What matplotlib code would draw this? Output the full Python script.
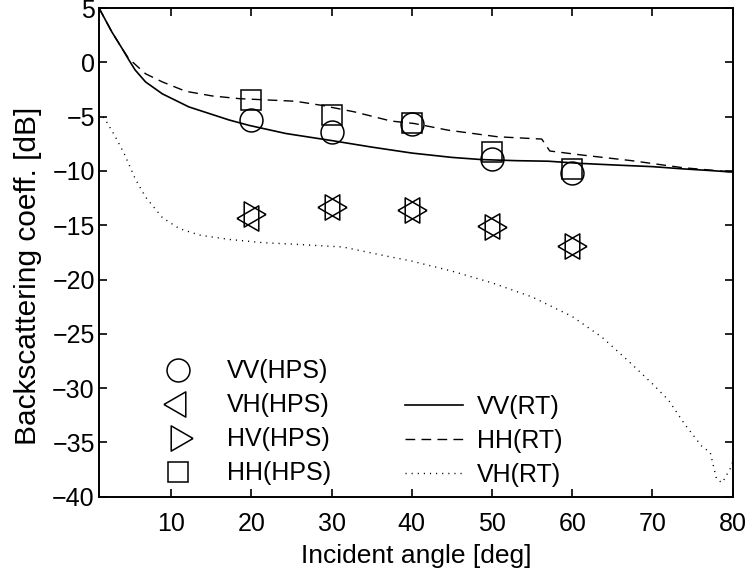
import numpy as np
import matplotlib
matplotlib.use("Agg")
import matplotlib.pyplot as plt

plt.rcParams['font.family'] = ['Liberation Sans', 'DejaVu Sans']
plt.rcParams['font.size'] = 18

# measured (HPS) values, incident angle in deg, backscatter in dB
hps_angle = [20, 30, 40, 50, 60]
vv_hps = [-5.35, -6.4, -5.7, -8.9, -10.2]
vh_hps = [-14.35, -13.35, -13.6, -15.1, -16.95]
hv_hps = [-13.95, -13.3, -13.55, -15.2, -16.95]
hh_hps = [-3.5, -4.8, -5.6, -8.25, -9.85]

# RT model curves
vv_rt_x = [1, 2.6, 3.9, 4.7, 5.5, 6.8, 8.9, 12.2, 17.2, 19.7, 24.3, 30, 35, 40,
           45, 48.7, 53, 57, 61, 65.3, 70, 73.7, 77, 80]
vv_rt_y = [5, 2.8, 1.25, 0.25, -0.7, -1.8, -2.9, -4.1, -5.3, -5.8, -6.55, -7.2,
           -7.8, -8.35, -8.75, -8.95, -9.05, -9.1, -9.3, -9.45, -9.6, -9.8, -9.95, -10.1]

hh_rt_x = [1, 2.6, 3.9, 4.7, 6.8, 8.9, 11.8, 15.1, 18.5, 25.5, 28.7, 32.8, 37.4,
           40.3, 44.5, 50.7, 56.2, 57.2, 61.2, 67.4, 73.7, 80]
hh_rt_y = [5, 2.8, 1.25, 0.35, -1.05, -1.8, -2.66, -3.09, -3.34, -3.58, -3.95,
           -4.55, -5.4, -5.63, -6.24, -6.85, -7.06, -8.16, -8.53, -9.05, -9.69, -10.1]

vh_rt_x = [1, 1.8, 3.0, 4.2, 5.5, 6.8, 8.9, 11, 13.5, 17.2, 21.4, 25.5, 31.4,
           36.6, 40, 44.9, 50, 55, 60, 63.7, 67, 70, 72, 74, 76.2, 77.2, 78,
           78.7, 79.7, 80]
vh_rt_y = [-4.6, -5.3, -6.8, -8.5, -10.7, -12.4, -14.3, -15.3, -15.9, -16.3,
           -16.6, -16.75, -17.0, -17.8, -18.3, -19.2, -20.3, -21.6, -23.4, -25.3,
           -27.5, -29.6, -31.1, -33.3, -35.4, -35.9, -38.4, -38.7, -37.4, -36.8]

# equilateral triangles centred on their centroid (MATLAB style)
tri_left = [(-1, 0), (0.5, 0.866), (0.5, -0.866), (-1, 0)]
tri_right = [(1, 0), (-0.5, 0.866), (-0.5, -0.866), (1, 0)]

fig = plt.figure(figsize=(7.48, 5.77), dpi=100)
ax = fig.add_axes([0.1324, 0.139, 0.8471, 0.847])

mk = dict(linestyle='none', color='k', mfc='none', mew=1.1)
h_vv, = ax.plot(hps_angle, vv_hps, marker='o', ms=16.5, label='VV(HPS)', **mk)
h_vh, = ax.plot(hps_angle, vh_hps, marker=tri_left, ms=21, label='VH(HPS)', **mk)
h_hv, = ax.plot(hps_angle, hv_hps, marker=tri_right, ms=21, label='HV(HPS)', **mk)
h_hh, = ax.plot(hps_angle, hh_hps, marker='s', ms=15, label='HH(HPS)', **mk)

l_vv, = ax.plot(vv_rt_x, vv_rt_y, 'k-', lw=1.2, label='VV(RT)')
l_hh, = ax.plot(hh_rt_x, hh_rt_y, 'k', lw=1.0, linestyle=(0, (7, 4.5)), label='HH(RT)')
l_vh, = ax.plot(vh_rt_x, vh_rt_y, 'k', lw=1.0, linestyle=(0, (0.8, 3.6)), label='VH(RT)')

ax.set_xlim(1, 80)
ax.set_ylim(-40, 5)
ax.set_xticks(np.arange(10, 81, 10))
ax.set_yticks(np.arange(-40, 6, 5))
ax.tick_params(direction='in', top=True, right=True, length=6, width=1.2)
ax.tick_params(axis='x', pad=11)
ax.tick_params(axis='y', pad=3)
for s in ax.spines.values():
    s.set_linewidth(1.4)

ax.set_xlabel('Incident angle [deg]', labelpad=6, fontsize=19)
ax.set_ylabel('Backscattering coeff. [dB]', fontsize=21.5)
ax.yaxis.set_label_coords(-0.09, 0.4515)

leg1 = ax.legend(handles=[h_vv, h_vh, h_hv, h_hh], loc='upper left',
                 bbox_to_anchor=(0.105, 0.281), frameon=False, borderpad=0,
                 borderaxespad=0, numpoints=1, handlelength=1.0,
                 handletextpad=1.46, labelspacing=0.4)
ax.add_artist(leg1)
ax.legend(handles=[l_vv, l_hh, l_vh], loc='upper left',
          bbox_to_anchor=(0.483, 0.209), frameon=False, borderpad=0,
          borderaxespad=0, handlelength=2.32, handletextpad=0.56,
          labelspacing=0.4)

fig.savefig('out.png', dpi=100)
